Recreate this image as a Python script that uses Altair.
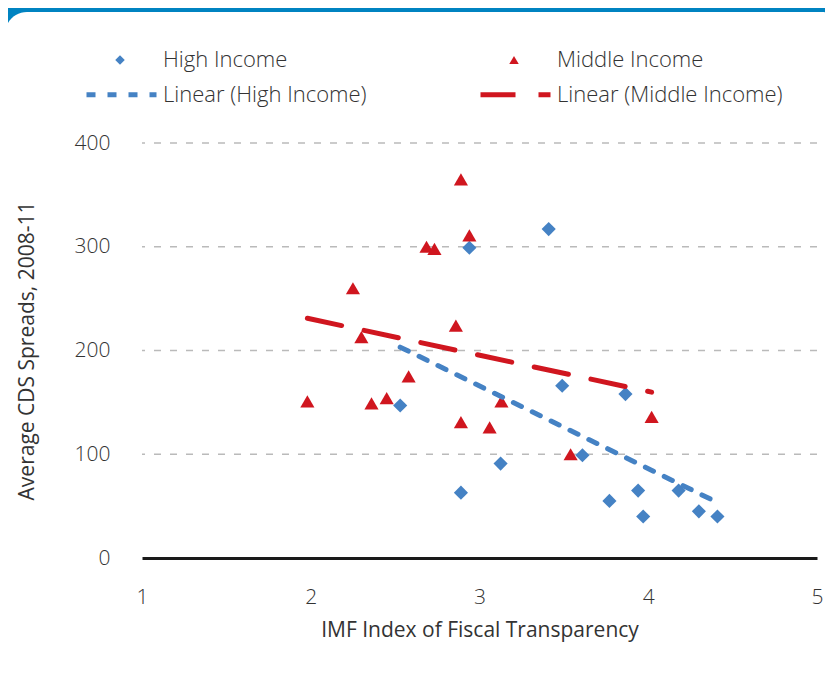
import altair as alt
import pandas as pd

# ---- data ----
high_x = [3.41, 2.94, 2.53, 3.49, 3.865, 3.61, 3.125, 2.89, 3.77, 3.94, 3.97, 4.18, 4.30, 4.41]
high_y = [317, 299, 147, 166, 158, 99, 91, 63, 55, 65, 40, 65, 45, 40]
mid_x = [1.98, 2.89, 2.94, 2.686, 2.733, 2.25, 2.86, 2.30, 2.36, 2.45, 2.58, 3.13, 2.89, 3.06, 3.54, 4.02]
mid_y = [151, 365, 311, 300, 298, 260, 224, 213, 149, 154, 175, 151, 131, 126, 100, 136]
groups = ["High Income", "Middle Income"]
trend_names = ["Linear (High Income)", "Linear (Middle Income)"]
x_ticks = [1, 2, 3, 4, 5]
y_ticks = [0, 100, 200, 300, 400]
grid_values = [100, 200, 300, 400]

BLUE = "#4582C4"
RED = "#D0161F"
FRAME = "#0083C1"
TXT = "#333333"
FONT = "Open Sans"

df = pd.DataFrame({
    "x": high_x + mid_x,
    "y": high_y + mid_y,
    "group": [groups[0]] * len(high_x) + [groups[1]] * len(mid_x),
})

xscale = alt.Scale(domain=[1, 5], nice=False, zero=False)
yscale = alt.Scale(domain=[0, 400], nice=False)
xaxis = alt.Axis(values=x_ticks, title="IMF Index of Fiscal Transparency", grid=False,
                 ticks=False, domain=True, domainColor="#1a1a1a", domainWidth=3,
                 labelPadding=28, titlePadding=12, labelFlush=False, zindex=1)
yaxis = alt.Axis(values=y_ticks, title="Average CDS Spreads, 2008-11", grid=False,
                 domain=False, ticks=False, labelPadding=32, titlePadding=37,
                 labelFlush=False, zindex=1)

card = alt.Chart(alt.Data(values=[{"a": 1}])).mark_rect(
    color="white", cornerRadius=22
).encode(
    x=alt.value(-137), x2=alt.value(702), y=alt.value(-131), y2=alt.value(544)
)

grid = alt.Chart(pd.DataFrame({"g": grid_values})).mark_rule(
    color="#bababa", strokeWidth=1.3, strokeDash=[7, 9]
).encode(
    y=alt.Y("g:Q", scale=yscale, axis=yaxis)
)

pt_legend = alt.Legend(title=None, orient="none", legendX=-33, legendY=-94,
                       direction="horizontal", columns=2, columnPadding=215,
                       symbolSize=90, labelOffset=32, padding=0)

points = alt.Chart(df).mark_point(filled=True, size=200, opacity=1).encode(
    x=alt.X("x:Q", scale=xscale, axis=xaxis),
    y=alt.Y("y:Q", scale=yscale, axis=yaxis),
    color=alt.Color("group:N", scale=alt.Scale(domain=groups, range=[BLUE, RED]), legend=pt_legend),
    shape=alt.Shape("group:N", scale=alt.Scale(domain=groups, range=["diamond", "triangle-up"]), legend=pt_legend),
)

ln_legend = alt.Legend(title=None, orient="none", legendX=-58, legendY=-86,
                       direction="horizontal", columns=2, columnPadding=103,
                       symbolSize=4900, symbolStrokeWidth=5, symbolType="stroke",
                       labelOffset=4, padding=0)

lines = alt.Chart(df).transform_regression(
    "x", "y", groupby=["group"]
).transform_calculate(
    trend="'Linear (' + datum.group + ')'"
).mark_line(strokeWidth=5, strokeCap="round").encode(
    x=alt.X("x:Q", scale=xscale, axis=xaxis),
    y=alt.Y("y:Q", scale=yscale, axis=yaxis),
    color=alt.Color("trend:N", scale=alt.Scale(domain=trend_names, range=[BLUE, RED]), legend=ln_legend),
    strokeDash=alt.StrokeDash("trend:N", scale=alt.Scale(domain=trend_names, range=[[9, 12], [35, 23]]), legend=ln_legend),
)

chart = alt.layer(card, grid, points, lines).resolve_scale(
    color="independent", shape="independent", strokeDash="independent"
).resolve_legend(
    color="independent", shape="independent", strokeDash="independent"
).properties(
    width=675, height=415,
    padding={"left": 134, "top": 135, "right": 8, "bottom": 109},
    autosize=alt.AutoSizeParams(type="none"),
    background=FRAME,
).configure_view(stroke=None).configure_axis(
    labelFont=FONT, titleFont=FONT, labelFontSize=21, titleFontSize=21,
    labelColor=TXT, titleColor=TXT, titleFontWeight="normal",
    labelFontWeight=300,
).configure_legend(
    labelFont=FONT, labelFontSize=22, labelColor=TXT, labelLimit=400,
    labelFontWeight=300,
)

chart.save("out.html", embed_options={"renderer": "svg", "actions": False})
